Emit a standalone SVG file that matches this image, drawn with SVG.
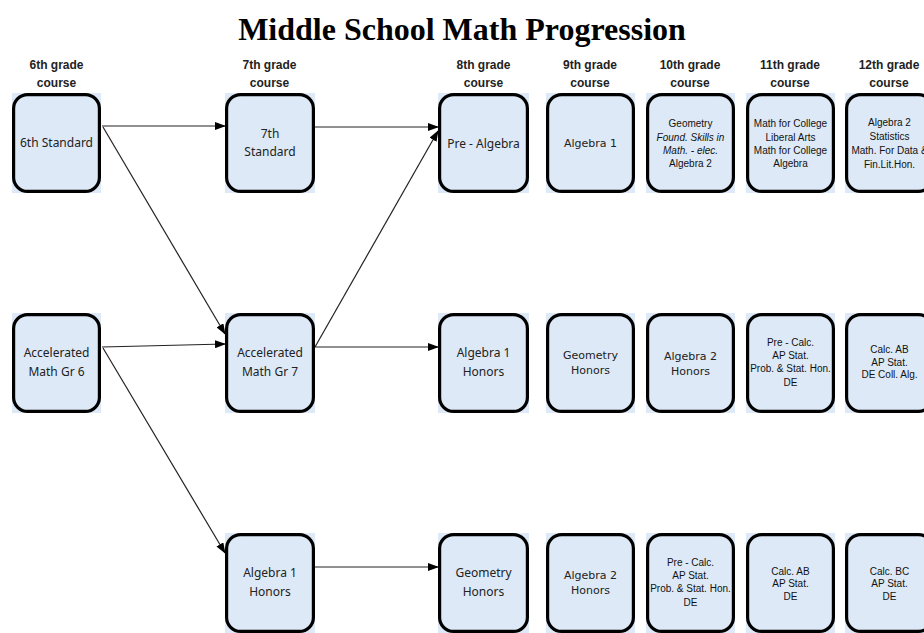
<svg xmlns="http://www.w3.org/2000/svg" width="924" height="633" viewBox="0 0 924 633">
<style>
.title{font-family:"Liberation Serif","Times New Roman",serif;font-weight:bold;font-size:32px;fill:#000;text-anchor:middle}
.hdr{font-family:"Liberation Sans",Arial,sans-serif;font-weight:bold;font-size:12px;fill:#222;text-anchor:middle}
.bg{fill:#dde9f6}
.bd{fill:none;stroke:#000;stroke-width:3.2}
.c{font-family:"Noto Sans","Open Sans",sans-serif;font-size:12px;fill:#222;text-anchor:middle}
.t{font-family:"DejaVu Sans",Verdana,sans-serif;font-size:11px;fill:#222;text-anchor:middle}
.s{font-family:"Liberation Sans",Arial,sans-serif;font-size:10px;fill:#111;text-anchor:middle}
.i{font-style:italic}
.ln{stroke:#222;stroke-width:1.2;fill:none;marker-end:url(#ah)}
</style>
<defs>
<marker id="ah" markerUnits="userSpaceOnUse" markerWidth="11" markerHeight="8" refX="10" refY="4" orient="auto">
<path d="M0,0 L11,4 L0,8 z" fill="#000"/>
</marker>
</defs>
<rect width="924" height="633" fill="#fff"/>
<text class="title" x="462" y="40">Middle School Math Progression</text>
<g id="headers">
<text class="hdr" x="56.5" y="69">6th grade</text><text class="hdr" x="56.5" y="87">course</text>
<text class="hdr" x="269.5" y="69">7th grade</text><text class="hdr" x="269.5" y="87">course</text>
<text class="hdr" x="483.5" y="69">8th grade</text><text class="hdr" x="483.5" y="87">course</text>
<text class="hdr" x="590" y="69">9th grade</text><text class="hdr" x="590" y="87">course</text>
<text class="hdr" x="690" y="69">10th grade</text><text class="hdr" x="690" y="87">course</text>
<text class="hdr" x="790" y="69">11th grade</text><text class="hdr" x="790" y="87">course</text>
<text class="hdr" x="889" y="69">12th grade</text><text class="hdr" x="889" y="87">course</text>
</g>
<g id="connectors">
<line class="ln" x1="102" y1="126" x2="225" y2="126"/>
<line class="ln" x1="103" y1="127" x2="225" y2="334"/>
<line class="ln" x1="314" y1="127" x2="438" y2="127"/>
<line class="ln" x1="315" y1="347" x2="438" y2="131"/>
<line class="ln" x1="314" y1="347" x2="438" y2="347"/>
<line class="ln" x1="102" y1="347" x2="225" y2="344"/>
<line class="ln" x1="103" y1="348" x2="225" y2="553"/>
<line class="ln" x1="314" y1="567" x2="438" y2="567"/>
</g>
<g id="n6std"><rect class="bg" x="12" y="93" width="89" height="100"/><rect class="bd" x="13.6" y="94.6" width="85.8" height="96.8" rx="14"/>
<text class="c" x="56.5" y="147">6th Standard</text></g>
<g id="n7std"><rect class="bg" x="225" y="93" width="90" height="100"/><rect class="bd" x="226.6" y="94.6" width="86.8" height="96.8" rx="14"/>
<text class="c" x="270" y="138">7th</text><text class="c" x="270" y="156">Standard</text></g>
<g id="n8pre"><rect class="bg" x="438" y="93" width="91" height="100"/><rect class="bd" x="439.6" y="94.6" width="87.8" height="96.8" rx="14"/>
<text class="c" x="483.5" y="148">Pre - Algebra</text></g>
<g id="n9alg1"><rect class="bg" x="546" y="93" width="89" height="100"/><rect class="bd" x="547.6" y="94.6" width="85.8" height="96.8" rx="14"/>
<text class="t" x="590.5" y="147">Algebra 1</text></g>
<g id="n10r1"><rect class="bg" x="646" y="93" width="89" height="100"/><rect class="bd" x="647.6" y="94.6" width="85.8" height="96.8" rx="14"/>
<text class="s" x="690.5" y="126.5">Geometry</text><text class="s i" x="690.5" y="140.5">Found. Skills in</text><text class="s i" x="690.5" y="153.5">Math. - elec.</text><text class="s" x="690.5" y="166.5">Algebra 2</text></g>
<g id="n11r1"><rect class="bg" x="746" y="93" width="89" height="100"/><rect class="bd" x="747.6" y="94.6" width="85.8" height="96.8" rx="14"/>
<text class="s" x="790.5" y="126.5">Math for College</text><text class="s" x="790.5" y="140.5">Liberal Arts</text><text class="s" x="790.5" y="153.5">Math for College</text><text class="s" x="790.5" y="166.5">Algebra</text></g>
<g id="n12r1"><rect class="bg" x="845" y="93" width="89" height="100"/><rect class="bd" x="846.6" y="94.6" width="85.8" height="96.8" rx="14"/>
<text class="s" x="889.5" y="125.5">Algebra 2</text><text class="s" x="889.5" y="139.5">Statistics</text><text class="s" x="889.5" y="153.5">Math. For Data &amp;</text><text class="s" x="889.5" y="167.5">Fin.Lit.Hon.</text></g>

<g id="n6acc"><rect class="bg" x="12" y="313" width="89" height="100"/><rect class="bd" x="13.6" y="314.6" width="85.8" height="96.8" rx="14"/>
<text class="c" x="56.5" y="357">Accelerated</text><text class="c" x="56.5" y="376">Math Gr 6</text></g>
<g id="n7acc"><rect class="bg" x="225" y="313" width="90" height="100"/><rect class="bd" x="226.6" y="314.6" width="86.8" height="96.8" rx="14"/>
<text class="c" x="270" y="357">Accelerated</text><text class="c" x="270" y="376">Math Gr 7</text></g>
<g id="n8alg1h"><rect class="bg" x="438" y="313" width="91" height="100"/><rect class="bd" x="439.6" y="314.6" width="87.8" height="96.8" rx="14"/>
<text class="c" x="483.5" y="357">Algebra 1</text><text class="c" x="483.5" y="376">Honors</text></g>
<g id="n9geoh"><rect class="bg" x="546" y="313" width="89" height="100"/><rect class="bd" x="547.6" y="314.6" width="85.8" height="96.8" rx="14"/>
<text class="t" x="590.5" y="359">Geometry</text><text class="t" x="590.5" y="374">Honors</text></g>
<g id="n10alg2h"><rect class="bg" x="646" y="313" width="89" height="100"/><rect class="bd" x="647.6" y="314.6" width="85.8" height="96.8" rx="14"/>
<text class="t" x="690.5" y="360">Algebra 2</text><text class="t" x="690.5" y="375">Honors</text></g>
<g id="n11r2"><rect class="bg" x="746" y="313" width="89" height="100"/><rect class="bd" x="747.6" y="314.6" width="85.8" height="96.8" rx="14"/>
<text class="s" x="790.5" y="345.5">Pre - Calc.</text><text class="s" x="790.5" y="358.5">AP Stat.</text><text class="s" x="790.5" y="371.5">Prob. &amp; Stat. Hon.</text><text class="s" x="790.5" y="385.5">DE</text></g>
<g id="n12r2"><rect class="bg" x="845" y="313" width="89" height="100"/><rect class="bd" x="846.6" y="314.6" width="85.8" height="96.8" rx="14"/>
<text class="s" x="889.5" y="352.5">Calc. AB</text><text class="s" x="889.5" y="365.5">AP Stat.</text><text class="s" x="889.5" y="377.5">DE Coll. Alg.</text></g>

<g id="n7alg1h"><rect class="bg" x="225" y="533" width="90" height="100"/><rect class="bd" x="226.6" y="534.6" width="86.8" height="96.8" rx="14"/>
<text class="c" x="270" y="577">Algebra 1</text><text class="c" x="270" y="596">Honors</text></g>
<g id="n8geoh"><rect class="bg" x="438" y="533" width="91" height="100"/><rect class="bd" x="439.6" y="534.6" width="87.8" height="96.8" rx="14"/>
<text class="c" x="483.5" y="577">Geometry</text><text class="c" x="483.5" y="596">Honors</text></g>
<g id="n9alg2h"><rect class="bg" x="546" y="533" width="89" height="100"/><rect class="bd" x="547.6" y="534.6" width="85.8" height="96.8" rx="14"/>
<text class="t" x="590.5" y="579">Algebra 2</text><text class="t" x="590.5" y="594">Honors</text></g>
<g id="n10r3"><rect class="bg" x="646" y="533" width="89" height="100"/><rect class="bd" x="647.6" y="534.6" width="85.8" height="96.8" rx="14"/>
<text class="s" x="690.5" y="565.5">Pre - Calc.</text><text class="s" x="690.5" y="578.5">AP Stat.</text><text class="s" x="690.5" y="591.5">Prob. &amp; Stat. Hon.</text><text class="s" x="690.5" y="605.5">DE</text></g>
<g id="n11r3"><rect class="bg" x="746" y="533" width="89" height="100"/><rect class="bd" x="747.6" y="534.6" width="85.8" height="96.8" rx="14"/>
<text class="s" x="790.5" y="574.5">Calc. AB</text><text class="s" x="790.5" y="586.5">AP Stat.</text><text class="s" x="790.5" y="599.5">DE</text></g>
<g id="n12r3"><rect class="bg" x="845" y="533" width="89" height="100"/><rect class="bd" x="846.6" y="534.6" width="85.8" height="96.8" rx="14"/>
<text class="s" x="889.5" y="574.5">Calc. BC</text><text class="s" x="889.5" y="586.5">AP Stat.</text><text class="s" x="889.5" y="599.5">DE</text></g>
</svg>
